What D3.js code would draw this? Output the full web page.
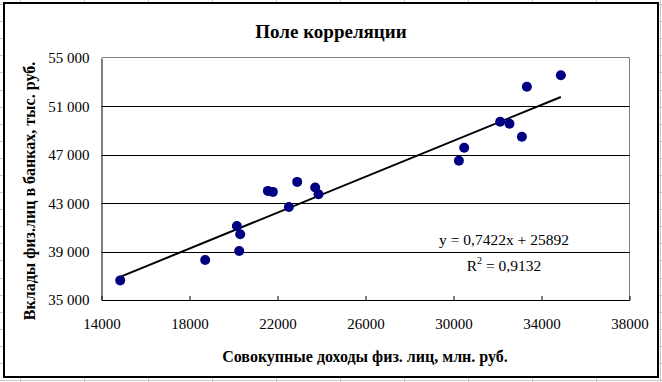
<!DOCTYPE html>
<html><head><meta charset="utf-8">
<script src="https://cdn.jsdelivr.net/npm/d3@7"></script>
<style>body{margin:0;background:#fff}svg{display:block}</style>
</head><body>
<svg id="c" width="662" height="382"></svg>
<script>
const incomeX = [14850,18713,20154,20305,20259,21563,21790,22517,22895,23713,23864,30245,30486,32122,32545,33108,33335,34880];
const depositsY = [36620,38304,41119,40432,39049,44017,43934,42692,44762,44298,43744,46501,47577,49730,49564,48488,52628,53572];
const xTicks = [14000,18000,22000,26000,30000,34000,38000];
const yTicks = [35000,39000,43000,47000,51000,55000];
const trend = [0.7422, 25892];
const titleText = "Поле корреляции";
const xTitle = "Совокупные доходы физ. лиц, млн. руб.";
const yTitle = "Вклады физ.лиц в банках, тыс. руб.";

const svg = d3.select("#c");
const W = 662, H = 382;
const serif = "'Liberation Serif','Times New Roman',serif";

// spreadsheet background grid
const bg = svg.append("g");
for (let y = 4; y < H; y += 17.1) bg.append("line").attr("x1",0).attr("x2",W).attr("y1",Math.round(y)+0.5).attr("y2",Math.round(y)+0.5).attr("stroke","#c8c8c8");
for (let x = 20; x < W; x += 64) bg.append("line").attr("x1",x+0.5).attr("x2",x+0.5).attr("y1",0).attr("y2",H).attr("stroke","#c8c8c8");

// chart frame
svg.append("rect").attr("x",4).attr("y",3).attr("width",654).attr("height",374)
  .attr("fill","#fff").attr("stroke","#000").attr("stroke-width",2);

const L = 101.5, R = 629.5, T = 57.5, B = 300;
const x = d3.scaleLinear().domain([14000,38000]).range([L,R]);
const y = d3.scaleLinear().domain([35000,55000]).range([B,T+0.5]);

// plot area border (top/right gray)
svg.append("path").attr("d",`M${L},${T}H${R}V${B}`).attr("fill","none").attr("stroke","#808080");

// gridlines
svg.append("g").selectAll("line").data(yTicks.filter(v=>v>35000 && v<55000)).join("line")
  .attr("x1",L).attr("x2",R).attr("y1",d=>Math.round(y(d))+0.5).attr("y2",d=>Math.round(y(d))+0.5)
  .attr("stroke","#000");

// axes
const xAxis = d3.axisBottom(x).tickValues(xTicks).tickFormat(d=>String(d)).tickSizeInner(-4).tickSizeOuter(0).tickPadding(18);
const gx = svg.append("g").attr("transform",`translate(0,${B})`).call(xAxis);
gx.select(".domain").attr("stroke","#000");
gx.selectAll(".tick line").attr("stroke","#000");
gx.selectAll("text").attr("font-family",serif).attr("font-size",15).attr("fill","#000");

const yAxis = d3.axisLeft(y).tickValues(yTicks).tickFormat(d=>d3.format(",")(d).replace(",", " ")).tickSize(0).tickPadding(12);
const gy = svg.append("g").attr("transform",`translate(${L},0)`).call(yAxis);
gy.select(".domain").attr("stroke","#000");
gy.selectAll("text").attr("font-family",serif).attr("font-size",15).attr("fill","#000");

// trendline
const x0 = d3.min(incomeX), x1 = d3.max(incomeX);
svg.append("line").attr("x1",x(x0)).attr("y1",y(trend[0]*x0+trend[1]))
  .attr("x2",x(x1)).attr("y2",y(trend[0]*x1+trend[1]))
  .attr("stroke","#000").attr("stroke-width",2);

// points
svg.append("g").selectAll("circle").data(incomeX.map((v,i)=>[v,depositsY[i]])).join("circle")
  .attr("cx",d=>x(d[0])).attr("cy",d=>y(d[1])).attr("r",5).attr("fill","#000080");

// equation
const eq = svg.append("g").attr("font-family",serif).attr("font-size",15.5).attr("fill","#000").attr("text-anchor","middle");
eq.append("text").attr("x",504).attr("y",245).text(`y = ${String(trend[0]).replace(".",",")}x + ${trend[1]}`);
const r2 = eq.append("text").attr("x",504).attr("y",271);
r2.append("tspan").text("R");
r2.append("tspan").attr("dy",-7).attr("font-size",10).text("2");
r2.append("tspan").attr("dy",7).text(" = 0,9132");

// titles
svg.append("text").attr("x",331).attr("y",38).attr("text-anchor","middle")
  .attr("font-family",serif).attr("font-weight","bold").attr("font-size",19).text(titleText);
svg.append("text").attr("x",365).attr("y",362).attr("text-anchor","middle")
  .attr("font-family",serif).attr("font-weight","bold").attr("font-size",16).text(xTitle);
svg.append("text").attr("transform","translate(35,191) rotate(-90)").attr("text-anchor","middle")
  .attr("font-family",serif).attr("font-weight","bold").attr("font-size",16).text(yTitle);
</script>
</body></html>
